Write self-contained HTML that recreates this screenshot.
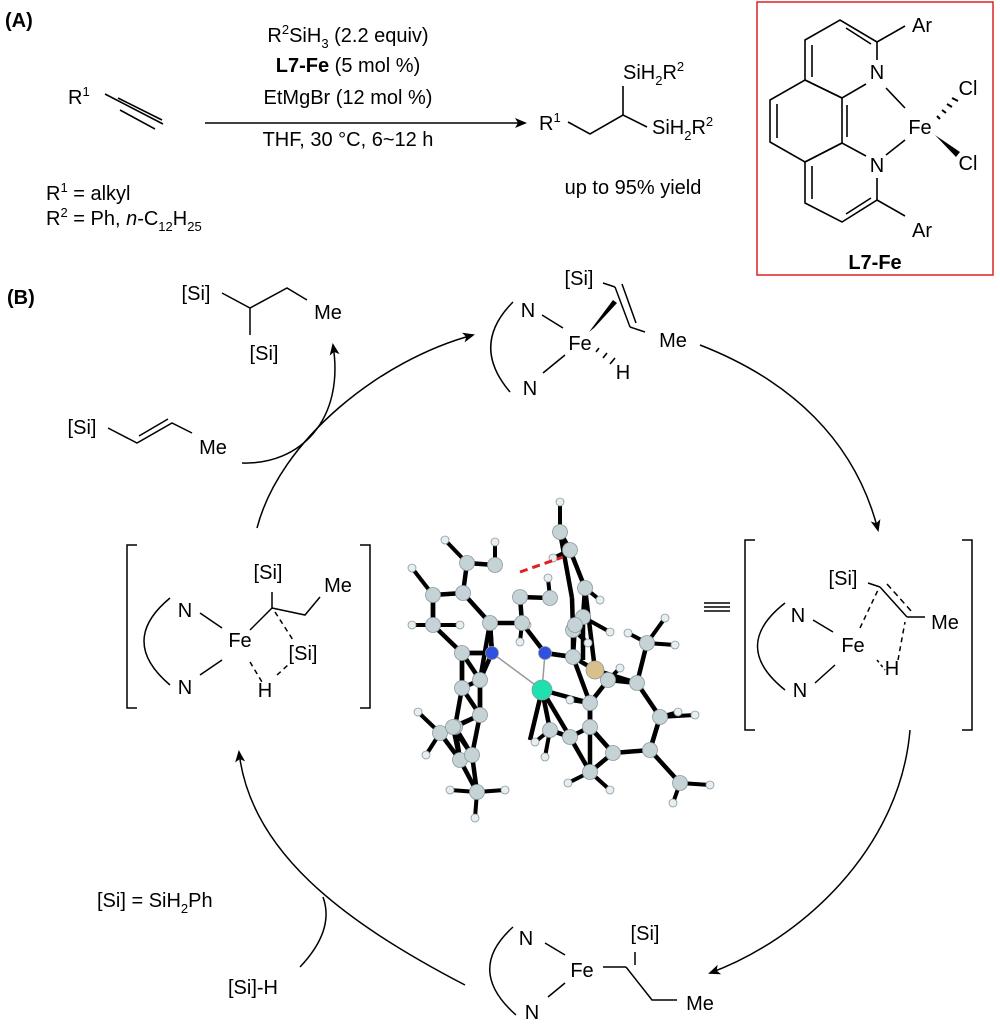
<!DOCTYPE html>
<html><head><meta charset="utf-8"><style>
body{margin:0;background:#fff}
svg{display:block}
text{font-family:"Liberation Sans",Arial,sans-serif;font-size:20px;fill:#000}
.b{font-weight:bold}
</style></head><body>
<svg id="s" width="1000" height="1030" viewBox="0 0 1000 1030" xmlns="http://www.w3.org/2000/svg">
<defs><marker id="ah" markerWidth="12" markerHeight="10" refX="10" refY="5" orient="auto" markerUnits="userSpaceOnUse"><path d="M0,0 L12,5 L0,10 L3,5 z" fill="#000"/></marker></defs>
<g stroke="#000" stroke-width="1.6" fill="none">
<line x1="105" y1="94" x2="163" y2="124"/><line x1="118" y1="98" x2="162" y2="120"/><line x1="120" y1="110" x2="155" y2="129"/>
<line x1="205" y1="123" x2="525" y2="123" marker-end="url(#ah)"/>
<polyline points="568,122 590,134 623,115 647,127"/><line x1="623" y1="115" x2="623" y2="86"/>
<rect x="757" y="2" width="236" height="273" stroke="#d22" stroke-width="1.5"/>
<polyline points="866,84 842,98 805,80 805,40 840,20 877,42 877,60"/>
<polygon points="805,80 842,98 842,143 805,162 770,142 770,100"/>
<polyline points="866,156 842,143 805,162 805,203 842,222 877,200 877,178"/>
<line x1="846" y1="28" x2="871" y2="44"/><line x1="812" y1="45" x2="812" y2="77"/><line x1="847" y1="105" x2="847" y2="137"/>
<line x1="777" y1="104" x2="777" y2="138"/>
<line x1="812" y1="166" x2="812" y2="199"/><line x1="846" y1="214" x2="871" y2="198"/>
<line x1="877" y1="42" x2="905" y2="26"/><line x1="877" y1="200" x2="905" y2="216"/>
<line x1="886" y1="88" x2="905" y2="108"/><line x1="886" y1="155" x2="905" y2="140"/>
</g>
<g stroke="#000" stroke-width="2">
<line x1="937" y1="116" x2="940" y2="119"/><line x1="942" y1="110" x2="946" y2="113"/><line x1="947" y1="104" x2="952" y2="107"/><line x1="952" y1="98" x2="958" y2="101"/>
</g>
<polygon points="935,135 960,152 956,157" fill="#000"/>
<text x="5" y="27" class="b">(A)</text>
<text x="68" y="104">R<tspan font-size="13" dy="-8">1</tspan></text>
<text x="348" y="42" text-anchor="middle">R<tspan font-size="13" dy="-8">2</tspan><tspan dy="8">SiH</tspan><tspan font-size="13" dy="6">3</tspan><tspan dy="-6"> (2.2 equiv)</tspan></text>
<text x="348" y="72" text-anchor="middle"><tspan class="b">L7-Fe</tspan> (5 mol %)</text>
<text x="348" y="104" text-anchor="middle">EtMgBr (12 mol %)</text>
<text x="348" y="146" text-anchor="middle">THF, 30 °C, 6~12 h</text>
<text x="539" y="130">R<tspan font-size="13" dy="-8">1</tspan></text>
<text x="623" y="79">SiH<tspan font-size="13" dy="6">2</tspan><tspan dy="-6">R</tspan><tspan font-size="13" dy="-8">2</tspan></text>
<text x="652" y="134">SiH<tspan font-size="13" dy="6">2</tspan><tspan dy="-6">R</tspan><tspan font-size="13" dy="-8">2</tspan></text>
<text x="633" y="194" text-anchor="middle">up to 95% yield</text>
<text x="46" y="200">R<tspan font-size="13" dy="-8">1</tspan><tspan dy="8"> = alkyl</tspan></text>
<text x="46" y="225">R<tspan font-size="13" dy="-8">2</tspan><tspan dy="8"> = Ph, </tspan><tspan font-style="italic">n</tspan>-C<tspan font-size="13" dy="6">12</tspan><tspan dy="-6">H</tspan><tspan font-size="13" dy="6">25</tspan></text>
<text x="877" y="79" text-anchor="middle">N</text><text x="877" y="172" text-anchor="middle">N</text>
<text x="922" y="32" text-anchor="middle">Ar</text><text x="922" y="237" text-anchor="middle">Ar</text>
<text x="920" y="134" text-anchor="middle">Fe</text>
<text x="968" y="95" text-anchor="middle">Cl</text><text x="968" y="170" text-anchor="middle">Cl</text>
<text x="875" y="269" text-anchor="middle" class="b">L7-Fe</text>

<text x="7" y="304" class="b">(B)</text>
<g stroke="#000" stroke-width="1.5" fill="none">
<polyline points="222,293 250,308 287,288 307,300"/><line x1="250" y1="308" x2="250" y2="335"/>
<polyline points="108,428 137,443 172,423 192,433"/><line x1="139" y1="436" x2="168" y2="419"/>
<path d="M242,463 C300,465 345,420 333,345" marker-end="url(#ah)"/>
<path d="M257,528 C280,440 380,360 473,335" marker-end="url(#ah)"/>
<path d="M700,345 C790,380 855,440 878,530" marker-end="url(#ah)"/>
<path d="M910,730 C900,850 800,940 710,973" marker-end="url(#ah)"/>
<path d="M465,985 C340,920 250,850 239,752" marker-end="url(#ah)"/>
<path d="M300,967 Q335,930 323,897"/>
<path d="M513,302 Q470,345 510,392"/>
<line x1="542" y1="315" x2="563" y2="328"/><line x1="565" y1="355" x2="543" y2="373"/>
<line x1="603" y1="283" x2="615" y2="287"/><line x1="615" y1="287" x2="630" y2="327"/><line x1="622" y1="284" x2="636" y2="323"/>
<line x1="630" y1="327" x2="645" y2="332"/>
<polyline points="137,545 127,545 127,708 137,708"/><polyline points="360,545 370,545 370,708 360,708"/>
<path d="M170,598 Q118,641 170,685"/>
<line x1="200" y1="613" x2="222" y2="628"/><line x1="222" y1="660" x2="200" y2="675"/>
<line x1="250" y1="630" x2="272" y2="608"/><polyline points="272,608 305,615 320,597"/><line x1="272" y1="608" x2="272" y2="592"/>
<line x1="275" y1="612" x2="293" y2="640" stroke-dasharray="5,4"/><line x1="250" y1="662" x2="262" y2="682" stroke-dasharray="5,4"/><line x1="277" y1="675" x2="288" y2="665" stroke-dasharray="5,4"/>
<polyline points="755,540 745,540 745,730 755,730"/><polyline points="962,540 972,540 972,730 962,730"/>
<line x1="704" y1="603" x2="730" y2="603"/><line x1="704" y1="607" x2="730" y2="607"/><line x1="704" y1="611" x2="730" y2="611"/>
<path d="M785,603 Q730,646 785,690"/>
<line x1="813" y1="620" x2="833" y2="632"/><line x1="835" y1="665" x2="815" y2="683"/>
<line x1="868" y1="583" x2="880" y2="587"/><line x1="880" y1="587" x2="907" y2="617"/><line x1="887" y1="584" x2="912" y2="612" stroke-dasharray="6,4"/>
<line x1="907" y1="617" x2="925" y2="617"/>
<line x1="860" y1="628" x2="878" y2="590" stroke-dasharray="5,4"/><line x1="898" y1="660" x2="905" y2="622" stroke-dasharray="5,4"/><line x1="877" y1="660" x2="885" y2="670" stroke-dasharray="3,3"/>
<path d="M513,927 Q465,970 516,1015"/>
<line x1="545" y1="943" x2="565" y2="955"/><line x1="565" y1="983" x2="548" y2="997"/>
<line x1="603" y1="967" x2="626" y2="967"/><line x1="635" y1="965" x2="635" y2="952"/><polyline points="626,967 652,1000 677,1000"/>
</g>
<polygon points="589,332 594,328 617,303 613,300" fill="#000"/>
<g stroke="#000" stroke-width="1.6"><line x1="596" y1="352" x2="599" y2="348"/><line x1="603" y1="358" x2="607" y2="353"/><line x1="610" y1="364" x2="615" y2="358"/></g>
<text x="196" y="300" text-anchor="middle">[Si]</text><text x="264" y="360" text-anchor="middle">[Si]</text><text x="328" y="319" text-anchor="middle">Me</text>
<text x="82" y="434" text-anchor="middle">[Si]</text><text x="213" y="454" text-anchor="middle">Me</text>
<text x="528" y="317" text-anchor="middle">N</text><text x="530" y="395" text-anchor="middle">N</text><text x="580" y="350" text-anchor="middle">Fe</text>
<text x="579" y="285" text-anchor="middle">[Si]</text><text x="673" y="347" text-anchor="middle">Me</text><text x="623" y="379" text-anchor="middle">H</text>
<text x="185" y="617" text-anchor="middle">N</text><text x="185" y="694" text-anchor="middle">N</text><text x="240" y="647" text-anchor="middle">Fe</text>
<text x="268" y="579" text-anchor="middle">[Si]</text><text x="338" y="592" text-anchor="middle">Me</text><text x="303" y="660" text-anchor="middle">[Si]</text><text x="265" y="697" text-anchor="middle">H</text>
<text x="843" y="585" text-anchor="middle">[Si]</text><text x="945" y="629" text-anchor="middle">Me</text>
<text x="798" y="622" text-anchor="middle">N</text><text x="800" y="697" text-anchor="middle">N</text><text x="853" y="652" text-anchor="middle">Fe</text><text x="892" y="675" text-anchor="middle">H</text>
<text x="526" y="945" text-anchor="middle">N</text><text x="532" y="1019" text-anchor="middle">N</text><text x="582" y="977" text-anchor="middle">Fe</text>
<text x="645" y="940" text-anchor="middle">[Si]</text><text x="700" y="1010" text-anchor="middle">Me</text>
<text x="97" y="907">[Si] = SiH<tspan font-size="13" dy="6">2</tspan><tspan dy="-6">Ph</tspan></text>
<text x="228" y="994">[Si]-H</text>
<g id="mol"></g>
<line x1="520" y1="572" x2="563" y2="557" stroke="#e02020" stroke-width="3" stroke-dasharray="8,5"/>
</svg>
<script>
(function(){
var C=[[467,563],[495,565],[463,593],[433,595],[433,625],[462,653],[490,623],[520,597],[522,623],[550,598],[570,550],[560,532],[585,588],[583,617],[573,630],[573,657],[480,680],[462,688],[480,715],[455,727],[440,733],[460,760],[472,755],[477,792],[637,683],[647,643],[660,717],[650,750],[680,783],[613,753],[590,772],[570,737],[550,730],[590,703],[590,727],[608,680],[575,625],[453,727]];
var H=[[445,540],[495,542],[412,568],[412,625],[560,502],[553,558],[600,600],[548,578],[610,632],[628,633],[675,645],[678,712],[710,785],[673,803],[610,790],[568,783],[535,742],[545,757],[418,712],[426,755],[450,790],[505,790],[475,818],[520,642],[460,625],[588,643],[570,700],[620,668],[665,618],[695,715],[527,625]];
var N=[[492,653],[545,653]],Fe=[542,690],Si=[595,670];
var X=[[[560,532],[572,598]],[[570,550],[585,588]],[[585,588],[595,670]],[[572,598],[573,630]],[[462,653],[462,688]],[[490,623],[480,680]],[[480,680],[480,715]],[[462,688],[455,727]],[[480,715],[472,755]],[[455,727],[460,760]],[[460,760],[477,792]],[[472,755],[477,792]],[[542,690],[550,730]],[[542,690],[570,737]],[[542,690],[590,703]],[[595,670],[637,683]],[[637,683],[647,643]],[[637,683],[660,717]],[[660,717],[650,750]],[[650,750],[613,753]],[[613,753],[590,727]],[[590,727],[590,703]],[[650,750],[680,783]],[[590,703],[590,772]],[[570,737],[590,772]],[[550,730],[570,737]],[[595,670],[573,657]],[[545,653],[573,657]],[[522,623],[545,653]],[[490,623],[492,653]],[[462,653],[492,653]],[[608,680],[595,670]],[[573,657],[590,703]],[[542,690],[530,740]],[[583,617],[583,660]],[[433,595],[433,625]],[[433,625],[462,653]],[[463,593],[490,623]]];
var out='';
function L(a,b,w,c){out+='<line x1="'+a[0]+'" y1="'+a[1]+'" x2="'+b[0]+'" y2="'+b[1]+'" stroke="'+(c||'#000')+'" stroke-width="'+w+'"/>';}
function d(a,b){return Math.hypot(a[0]-b[0],a[1]-b[1]);}
var heavy=C.concat(N);
for(var i=0;i<heavy.length;i++)for(var j=i+1;j<heavy.length;j++)if(d(heavy[i],heavy[j])<36)L(heavy[i],heavy[j],4.5);
X.forEach(function(p){L(p[0],p[1],4.5);});
H.forEach(function(h){var best=null,bd=1e9;C.forEach(function(c){var q=d(h,c);if(q<bd){bd=q;best=c;}});if(bd<45)L(h,best,4);});
L(N[0],Fe,1.5,'#999');L(N[1],Fe,1.5,'#999');
function ball(p,r,f){out+='<circle cx="'+p[0]+'" cy="'+p[1]+'" r="'+r+'" fill="'+f+'" stroke="#8a9aa0" stroke-width="0.8"/>';}
H.forEach(function(p){ball(p,4,'#e8eef0');});
C.forEach(function(p){ball(p,7.5,'#c5d2d6');});
N.forEach(function(p){ball(p,6.5,'#3050e0');});
ball(Si,9,'#d8c08a');ball(Fe,10,'#20e0b0');
document.getElementById('mol').innerHTML=out;
})();
</script>
</body></html>
